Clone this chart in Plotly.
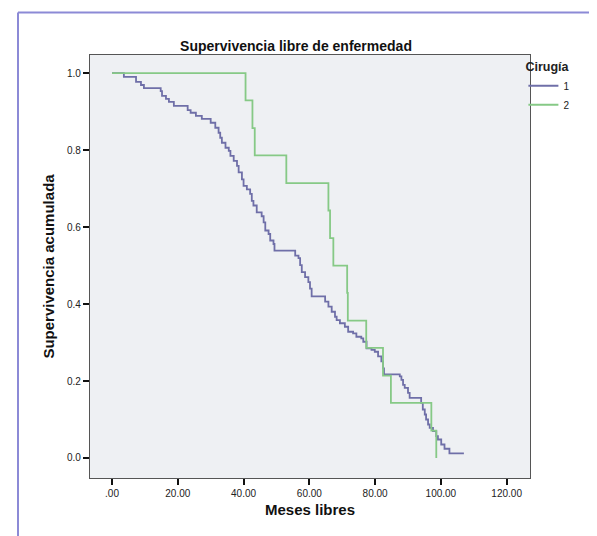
import plotly.graph_objects as go

# ---- data ----
grp1_time = [0, 3.6, 7.3, 8.8, 9.7, 14.8, 15.2, 16.4, 17.3, 18.8, 23.0, 23.9, 25.5, 27.3,
             30.0, 31.4, 32.4, 32.9, 33.4, 34.5, 35.5, 36.0, 37.0, 38.0, 38.5, 39.5, 40.0,
             41.0, 42.0, 42.5, 43.0, 44.0, 45.5, 46.1, 46.6, 47.6, 48.1, 49.1, 49.4, 55.7,
             56.7, 57.2, 57.7, 58.7, 59.7, 60.2, 60.7, 64.8, 65.8, 66.8, 67.8, 68.3, 69.3,
             70.8, 71.8, 73.3, 74.3, 75.8, 76.4, 77.4, 78.9, 79.9, 80.9, 81.9, 82.4, 82.7,
             87.5, 88.0, 88.5, 89.0, 90.0, 90.5, 94.0, 94.5, 95.1, 95.5, 96.1, 96.6, 97.6,
             98.6, 99.1, 100.1, 101.1, 102.6, 107.0]
grp1_surv = [1.0, 0.990, 0.977, 0.969, 0.961, 0.953, 0.941, 0.933, 0.925, 0.915, 0.904, 0.897,
             0.889, 0.881, 0.871, 0.858, 0.845, 0.832, 0.819, 0.806, 0.798, 0.785, 0.772,
             0.759, 0.742, 0.724, 0.707, 0.698, 0.686, 0.668, 0.656, 0.638, 0.628, 0.612,
             0.591, 0.582, 0.565, 0.556, 0.539, 0.526, 0.519, 0.501, 0.483, 0.470, 0.457,
             0.440, 0.420, 0.406, 0.393, 0.380, 0.367, 0.358, 0.350, 0.341, 0.328, 0.324,
             0.315, 0.311, 0.302, 0.285, 0.281, 0.276, 0.264, 0.251, 0.233, 0.217, 0.212,
             0.203, 0.190, 0.182, 0.169, 0.156, 0.143, 0.126, 0.113, 0.100, 0.087, 0.078,
             0.070, 0.057, 0.048, 0.035, 0.024, 0.012, 0.012]

grp2_time = [0, 40.6, 42.7, 43.4, 53.0, 65.8, 66.3, 67.3, 71.5, 71.7, 77.3, 82.4, 84.8, 97.1, 98.6]
grp2_surv = [1.0, 0.929, 0.857, 0.786, 0.714, 0.643, 0.571, 0.500, 0.429, 0.357, 0.286,
             0.214, 0.143, 0.071, 0.0]

group_names = ["1", "2"]
x_ticks = [0, 20, 40, 60, 80, 100, 120]
x_tick_labels = [".00", "20.00", "40.00", "60.00", "80.00", "100.00", "120.00"]
y_ticks = [0.0, 0.2, 0.4, 0.6, 0.8, 1.0]
y_tick_labels = ["0.0", "0.2", "0.4", "0.6", "0.8", "1.0"]

FONT = "Liberation Sans, Arial, sans-serif"
W, H = 597, 536
L, R, T, B = 82, 75, 47, 66

fig = go.Figure()
fig.add_trace(go.Scatter(x=grp1_time, y=grp1_surv, mode="lines", name=group_names[0],
                         line=dict(color="#6f6fa8", width=1.8, shape="hv")))
fig.add_trace(go.Scatter(x=grp2_time, y=grp2_surv, mode="lines", name=group_names[1],
                         line=dict(color="#86c986", width=1.8, shape="hv")))

pw = W - L - R
ph = H - T - B
def px(x):
    return (x - L) / pw
def py(y):
    return (H - B - y) / ph

# outer purple frame (left and top edges of the cropped figure)
fig.add_shape(type="line", xref="paper", yref="paper", x0=px(10), x1=px(10), y0=py(540), y1=py(4.5),
              line=dict(color="#8c8ad6", width=2))
fig.add_shape(type="line", xref="paper", yref="paper", x0=px(10), x1=px(600), y0=py(4.5), y1=py(4.5),
              line=dict(color="#8c8ad6", width=2))

fig.update_layout(
    width=W, height=H,
    margin=dict(l=L, r=R, t=T, b=B),
    paper_bgcolor="white",
    plot_bgcolor="#eef0f3",
    font=dict(family=FONT, color="#222", size=10),
    title=dict(text="<b>Supervivencia libre de enfermedad</b>", xref="container", x=288 / W,
               xanchor="center", yref="container", y=1 - 38 / H, yanchor="middle",
               font=dict(size=14, color="#111")),
    showlegend=True,
    legend=dict(title=dict(text="<b>Cirugía</b>", font=dict(size=12.5, color="#222")),
                x=0.985, xanchor="left", y=1.0, yanchor="top",
                font=dict(size=10, color="#222"), bgcolor="rgba(0,0,0,0)",
                itemwidth=30, tracegroupgap=0),
    xaxis=dict(range=[-6.7, 127.1], tickvals=x_ticks, ticktext=x_tick_labels,
               showgrid=False, zeroline=False, showline=True, linecolor="#555", linewidth=1.3,
               mirror=True, ticks="outside", ticklen=6, tickwidth=2, tickcolor="#111",
               title=dict(text="<b>Meses libres</b>", font=dict(size=15, color="#111"), standoff=6)),
    yaxis=dict(range=[-0.052, 1.047], tickvals=y_ticks, ticktext=y_tick_labels,
               showgrid=False, zeroline=False, showline=True, linecolor="#555", linewidth=1.3,
               mirror=True, ticks="outside", ticklen=6, tickwidth=2, tickcolor="#111",
               title=dict(text="<b>Supervivencia acumulada</b>", font=dict(size=15, color="#111"), standoff=8)),
)

fig.write_html("out.html")
